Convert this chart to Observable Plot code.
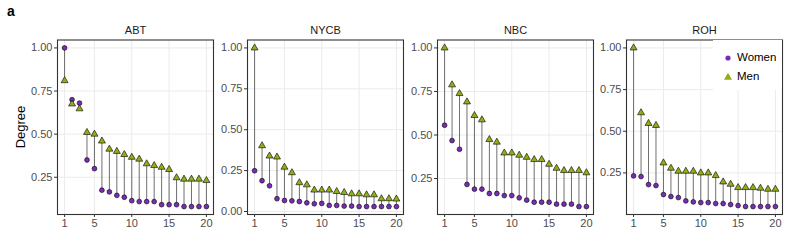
<!DOCTYPE html>
<html>
<head>
<meta charset="utf-8">
<script src="https://cdn.jsdelivr.net/npm/d3@7"></script>
<script src="https://cdn.jsdelivr.net/npm/@observablehq/plot@0.6"></script>
<style>
  html, body { margin: 0; padding: 0; background: #fff; }
  #chart { position: relative; width: 789px; height: 252px; font-family: "Liberation Sans", Arial, sans-serif; overflow: hidden; }
  #chart svg { position: absolute; top: 0; }
  .tag { position: absolute; left: 7px; top: 3px; font-weight: bold; font-size: 14px; color: #000; }
  .ylab { position: absolute; left: 20px; top: 127px; font-size: 13px; color: #000; transform: translate(-50%, -50%) rotate(-90deg); white-space: nowrap; }
  .legend { position: absolute; left: 713px; top: 40px; width: 69px; height: 50px; background: #fff; }
  .legend .item { position: absolute; left: 0; font-size: 11.5px; color: #000; line-height: 1; }
  .legend svg { position: absolute !important; }
</style>
</head>
<body>
<div id="chart">
  <div class="tag">a</div>
  <div class="ylab">Degree</div>
</div>
<script>
// ---- data ----
const panels = ["ABT", "NYCB", "NBC", "ROH"];
const ranks = [1,2,3,4,5,6,7,8,9,10,11,12,13,14,15,16,17,18,19,20];

const abtWomen  = [1.00,0.70,0.68,0.35,0.30,0.175,0.165,0.145,0.134,0.114,0.109,0.109,0.109,0.091,0.091,0.091,0.080,0.080,0.080,0.080];
const abtMen    = [0.81,0.675,0.647,0.51,0.50,0.46,0.413,0.40,0.382,0.366,0.355,0.328,0.318,0.308,0.295,0.247,0.239,0.239,0.239,0.231];
const nycbWomen = [0.249,0.188,0.157,0.078,0.067,0.065,0.061,0.053,0.047,0.049,0.037,0.037,0.033,0.033,0.030,0.030,0.030,0.030,0.030,0.030];
const nycbMen   = [1.00,0.402,0.339,0.333,0.271,0.237,0.176,0.163,0.131,0.131,0.131,0.122,0.116,0.108,0.108,0.102,0.102,0.078,0.078,0.076];
const nbcWomen  = [0.556,0.468,0.418,0.216,0.189,0.189,0.164,0.164,0.152,0.152,0.139,0.126,0.114,0.114,0.114,0.103,0.103,0.103,0.089,0.089];
const nbcMen    = [1.00,0.788,0.738,0.69,0.612,0.587,0.474,0.459,0.397,0.397,0.384,0.372,0.359,0.359,0.332,0.309,0.296,0.296,0.296,0.283];
const rohWomen  = [0.232,0.228,0.180,0.174,0.120,0.108,0.102,0.082,0.076,0.072,0.072,0.066,0.066,0.060,0.054,0.048,0.048,0.048,0.048,0.048];
const rohMen    = [1.00,0.611,0.547,0.535,0.31,0.278,0.26,0.26,0.26,0.25,0.25,0.234,0.196,0.182,0.162,0.162,0.162,0.158,0.152,0.152];

const xTicks = [1, 5, 10, 15, 20];
const abtTicks  = [0.25, 0.50, 0.75, 1.00];
const nycbTicks = [0.00, 0.25, 0.50, 0.75, 1.00];
const nbcTicks  = [0.25, 0.50, 0.75, 1.00];
const rohTicks  = [0.25, 0.50, 0.75, 1.00];

const seriesNames = ["Women", "Men"];

// ---- build ----
const womenSets = [abtWomen, nycbWomen, nbcWomen, rohWomen];
const menSets = [abtMen, nycbMen, nbcMen, rohMen];
const tickSets = [abtTicks, nycbTicks, nbcTicks, rohTicks];

const purple = "#7b2cb6";
const green = "#8fae17";
const panelLefts = [57, 247, 436.5, 626];
const panelW = 156;
const mL = 40, mR = 4;

const chart = document.getElementById("chart");

panels.forEach((name, i) => {
  const rows = ranks.map((r, j) => ({rank: r, women: womenSets[i][j], men: menSets[i][j]}));
  const all = rows.flatMap(d => [d.women, d.men]);
  const lo = d3.min(all), hi = d3.max(all), pad = (hi - lo) * 0.05;
  const xlo = d3.min(ranks), xhi = d3.max(ranks), xpad = (xhi - xlo) * 0.05;
  const svg = Plot.plot({
    width: mL + panelW + mR,
    height: 252,
    marginLeft: mL,
    marginRight: mR,
    marginTop: 39.5,
    marginBottom: 38,
    x: {domain: [xlo - xpad, xhi + xpad]},
    y: {domain: [lo - pad, hi + pad]},
    style: {fontFamily: "Liberation Sans, Arial, sans-serif", fontSize: "11px", background: "transparent", overflow: "visible"},
    marks: [
      Plot.gridX(xTicks, {stroke: "#ebebeb", strokeOpacity: 1, strokeWidth: 1}),
      Plot.gridY(tickSets[i], {stroke: "#ebebeb", strokeOpacity: 1, strokeWidth: 1}),
      Plot.ruleX(rows, {x: "rank", y1: "women", y2: "men", stroke: "#4a4a4a", strokeWidth: 0.8}),
      Plot.dot(rows, {x: "rank", y: "women", r: 2.4, fill: purple, stroke: "#000", strokeWidth: 0.6}),
      Plot.dot(rows, {x: "rank", y: "men", symbol: "triangle", r: 2.6, fill: green, stroke: "#000", strokeWidth: 0.6}),
      Plot.frame({stroke: "#333", strokeWidth: 1.1}),
      Plot.axisX(xTicks, {tickSize: 3, tickPadding: 2, stroke: "#333", fill: "#4d4d4d", label: null, fontSize: 11}),
      Plot.axisY(tickSets[i], {tickSize: 3, tickPadding: 2, stroke: "#333", fill: "#4d4d4d", label: null, fontSize: 11, tickFormat: d3.format(".2f")}),
      Plot.text([name], {frameAnchor: "top", dy: -10, text: d => d, fill: "#1a1a1a", fontSize: 11, lineAnchor: "middle"})
    ]
  });
  svg.style.left = (panelLefts[i] - mL) + "px";
  chart.appendChild(svg);
});

// legend (inside ROH panel, top right)
const legend = document.createElement("div");
legend.className = "legend";
const keyShapes = [
  `<svg width="10" height="10" style="left:10px;top:-5px"><circle cx="5" cy="5" r="2.6" fill="${purple}"/></svg>`,
  `<svg width="10" height="10" style="left:10px;top:-5px"><path d="${d3.symbol(d3.symbolTriangle, 28)()}" transform="translate(5,5.5)" fill="${green}"/></svg>`
];
seriesNames.forEach((s, k) => {
  const item = document.createElement("div");
  item.className = "item";
  item.style.top = (17.5 + k * 19) + "px";
  item.style.width = "69px";
  item.innerHTML = keyShapes[k] + `<span style="position:absolute;left:24px;top:-6px;white-space:nowrap">${s}</span>`;
  legend.appendChild(item);
});
chart.appendChild(legend);
</script>
</body>
</html>
